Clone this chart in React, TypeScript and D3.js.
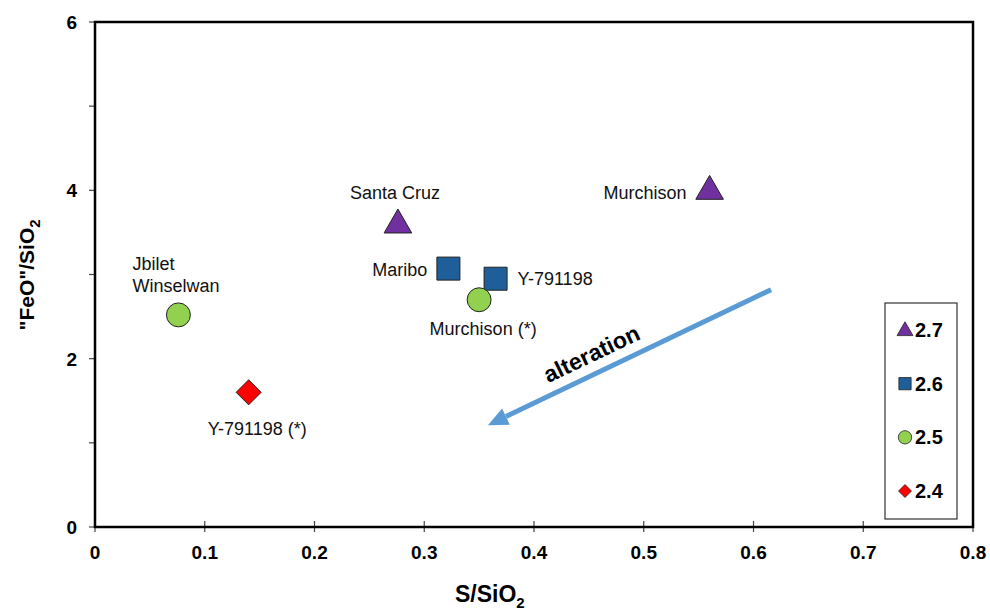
import * as React from 'react';
import * as d3 from 'd3';

const names = ['Jbilet\nWinselwan', 'Y-791198 (*)', 'Santa Cruz', 'Maribo', 'Y-791198', 'Murchison (*)', 'Murchison'];
const sRatio = [0.076, 0.140, 0.276, 0.322, 0.365, 0.350, 0.560];
const feoRatio = [2.52, 1.60, 3.60, 3.07, 2.95, 2.70, 4.00];
const groups = ['2.5', '2.4', '2.7', '2.6', '2.6', '2.5', '2.7'];

const legendGroups = ['2.7', '2.6', '2.5', '2.4'];
const groupShape = {'2.7': 'triangle', '2.6': 'square', '2.5': 'circle', '2.4': 'diamond'};
const groupColor = {'2.7': '#7030A0', '2.6': '#1F5F99', '2.5': '#92D050', '2.4': '#FF0000'};

const xTicks = [0, 0.1, 0.2, 0.3, 0.4, 0.5, 0.6, 0.7, 0.8];
const yTicks = [0, 1, 2, 3, 4, 5, 6];
const yLabels = [0, 2, 4, 6];

// arrow endpoints in data units
const arrowFrom = [0.616, 2.82];
const arrowTo = [0.358, 1.21];

// label placement: [dx, dy, anchor]
const labelPos: any[] = [
	[-46, -45, 'start'],
	[-41, 43, 'start'],
	[-3, -25, 'middle'],
	[-21, 7, 'end'],
	[22, 6, 'start'],
	[4, 35, 'middle'],
	[-23, 9, 'end'],
];

// size = half-diagonal for diamonds, area otherwise
const symbolFor = (shape, size) => {
	if (shape === 'diamond') {
		return `M0,${-size}L${size},0L0,${size}L${-size},0Z`;
	}
	const t = {triangle: d3.symbolTriangle, square: d3.symbolSquare, circle: d3.symbolCircle}[shape];
	return d3.symbol().type(t).size(size)();
};

const draw = (svgEl) => {
	const svg = d3.select(svgEl);
	svg.html('');
	const x = d3.scaleLinear().domain([0, 0.8]).range([95, 973]);
	const y = d3.scaleLinear().domain([0, 6]).range([527, 22]);
	const font = 'Arial, "Liberation Sans", sans-serif';

	// ticks
	svg.append('g').selectAll('line').data(xTicks).enter().append('line')
		.attr('x1', d => x(d)).attr('x2', d => x(d))
		.attr('y1', 521).attr('y2', 532)
		.attr('stroke', '#444').attr('stroke-width', 1.2);
	svg.append('g').selectAll('line').data(yTicks).enter().append('line')
		.attr('x1', 89).attr('x2', 95)
		.attr('y1', d => y(d)).attr('y2', d => y(d))
		.attr('stroke', '#444').attr('stroke-width', 1.2);

	// frame
	svg.append('rect')
		.attr('x', x(0)).attr('y', y(6))
		.attr('width', x(0.8) - x(0)).attr('height', y(0) - y(6))
		.attr('fill', 'none').attr('stroke', '#000').attr('stroke-width', 2.5);

	svg.append('g').selectAll('text').data(xTicks).enter().append('text')
		.attr('x', d => x(d)).attr('y', 559)
		.attr('text-anchor', 'middle')
		.style('font', `bold 19px ${font}`)
		.text(d => d === 0 ? '0' : d3.format('.1f')(d));
	svg.append('g').selectAll('text').data(yLabels).enter().append('text')
		.attr('x', 77).attr('y', d => y(d) + 7)
		.attr('text-anchor', 'end')
		.style('font', `bold 19px ${font}`)
		.text(d => d);

	// axis titles
	const xt = svg.append('text')
		.attr('x', 455).attr('y', 602)
		.style('font', `bold 23px ${font}`);
	xt.append('tspan').text('S/SiO');
	xt.append('tspan').attr('dy', 6).style('font-size', '15px').text('2');

	const yt = svg.append('text')
		.attr('transform', 'translate(34,275) rotate(-90)')
		.attr('text-anchor', 'middle')
		.style('font', `bold 21px ${font}`);
	yt.append('tspan').text('"FeO"/SiO');
	yt.append('tspan').attr('dy', 6).style('font-size', '15px').text('2');

	// alteration arrow
	const x1 = x(arrowFrom[0]), y1 = y(arrowFrom[1]);
	const x2 = x(arrowTo[0]), y2 = y(arrowTo[1]);
	const ang = Math.atan2(y2 - y1, x2 - x1);
	const headLen = 20, headW = 9;
	const bx = x2 - headLen * Math.cos(ang), by = y2 - headLen * Math.sin(ang);
	svg.append('line')
		.attr('x1', x1).attr('y1', y1).attr('x2', bx).attr('y2', by)
		.attr('stroke', '#5B9BD5').attr('stroke-width', 5);
	const px = -Math.sin(ang), py = Math.cos(ang);
	svg.append('path')
		.attr('d', `M${x2},${y2}L${bx + px * headW},${by + py * headW}L${bx - px * headW},${by - py * headW}Z`)
		.attr('fill', '#5B9BD5');
	const deg = ang * 180 / Math.PI + 180;
	svg.append('text')
		.attr('transform', `translate(595,361) rotate(${deg})`)
		.attr('text-anchor', 'middle')
		.style('font', `bold 23px ${font}`)
		.text('alteration');

	// points
	const sizes = {triangle: 330, square: 529, circle: 450, diamond: 12.5};
	names.forEach((n, i) => {
		const shape = groupShape[groups[i]];
		const cx = x(sRatio[i]), cy = y(feoRatio[i]);
		svg.append('path')
			.attr('transform', `translate(${cx},${cy + (shape === 'triangle' ? 1 : 0)})`)
			.attr('d', symbolFor(shape, sizes[shape]))
			.attr('fill', groupColor[groups[i]])
			.attr('stroke', '#222').attr('stroke-width', 1);
		const [dx, dy, anchor] = labelPos[i];
		const t = svg.append('text')
			.attr('x', cx + dx).attr('y', cy + dy)
			.attr('text-anchor', anchor)
			.style('font', `18px ${font}`).attr('fill', '#111');
		n.split('\n').forEach((line, k) => {
			t.append('tspan').attr('x', cx + dx).attr('dy', k === 0 ? 0 : 22).text(line);
		});
	});

	// legend
	const lg = svg.append('g');
	lg.append('rect').attr('x', 885).attr('y', 303).attr('width', 72).attr('height', 216)
		.attr('fill', '#fff').attr('stroke', '#333').attr('stroke-width', 1.2);
	const legSizes = {triangle: 110, square: 150, circle: 140, diamond: 6.5};
	const ly = d3.scalePoint().domain(legendGroups).range([330, 491]);
	legendGroups.forEach(g => {
		const shape = groupShape[g];
		lg.append('path')
			.attr('transform', `translate(905,${ly(g) + (shape === 'triangle' ? 1 : 0)})`)
			.attr('d', symbolFor(shape, legSizes[shape]))
			.attr('fill', groupColor[g])
			.attr('stroke', '#222').attr('stroke-width', 0.8);
		lg.append('text')
			.attr('x', 915).attr('y', ly(g) + 7)
			.style('font', `bold 20px ${font}`)
			.text(g);
	});
};

export default function App() {
	const ref = React.useRef(null);
	React.useEffect(() => {
		draw(ref.current);
	}, []);
	return (
		<svg ref={ref} width={990} height={613}
			style={{position: 'absolute', left: 0, top: 0, background: '#fff'}} />
	);
}
